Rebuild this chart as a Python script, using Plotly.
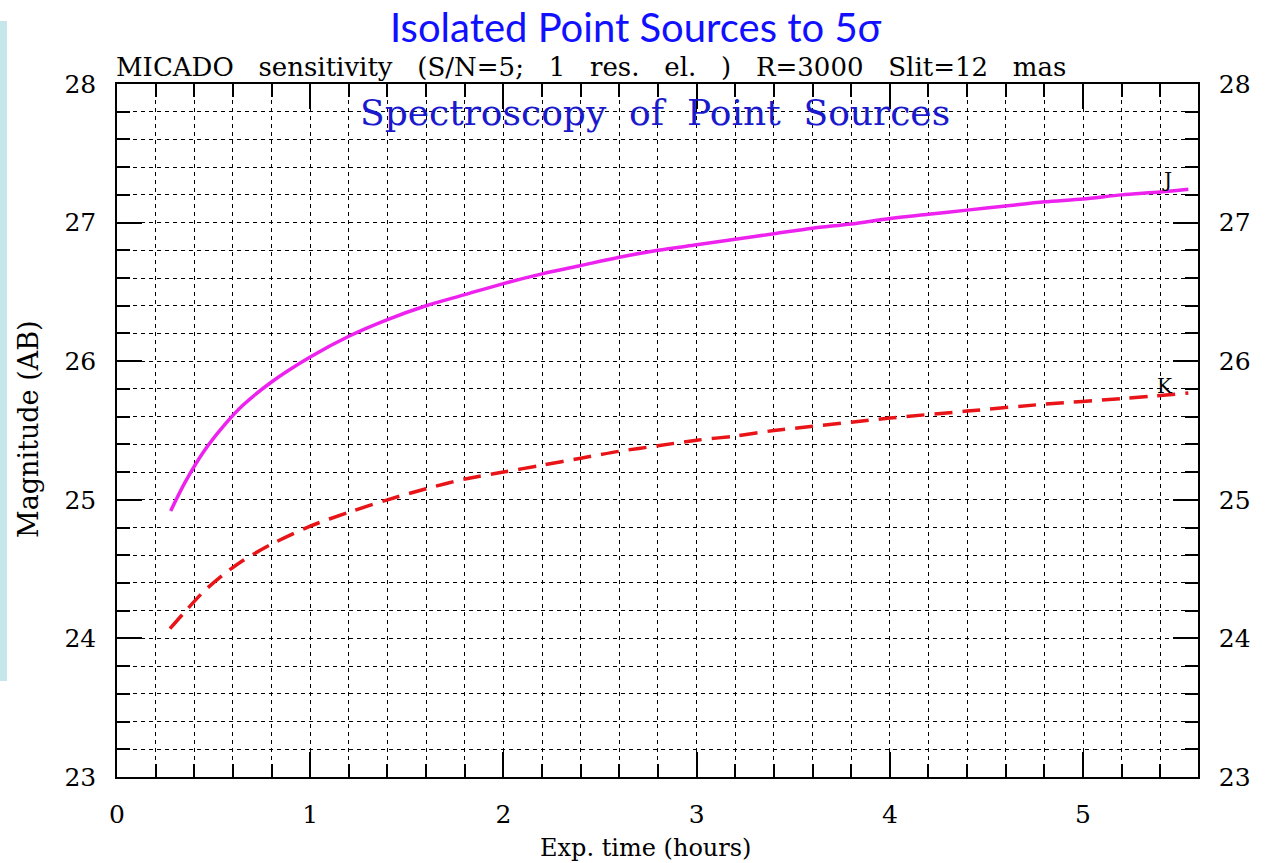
import plotly.graph_objects as go

# ---- data ----
j_hours = [0.278, 0.35, 0.45, 0.55, 0.65, 0.8, 1.0, 1.2, 1.4, 1.6, 1.8, 2.0, 2.2, 2.4,
           2.6, 2.8, 3.0, 3.2, 3.4, 3.6, 3.8, 4.0, 4.2, 4.4, 4.6, 4.8, 5.0, 5.2, 5.4,
           5.545]
j_mag = [24.92, 25.12, 25.35, 25.53, 25.68, 25.85, 26.03, 26.18, 26.30, 26.40, 26.48,
         26.56, 26.63, 26.69, 26.75, 26.80, 26.84, 26.88, 26.92, 26.96, 26.99, 27.03,
         27.06, 27.09, 27.12, 27.15, 27.17, 27.20, 27.22, 27.24]

k_hours = [0.274, 0.35, 0.45, 0.55, 0.65, 0.8, 1.0, 1.2, 1.4, 1.6, 1.8, 2.0, 2.2, 2.4,
           2.6, 2.8, 3.0, 3.2, 3.4, 3.6, 3.8, 4.0, 4.4, 4.8, 5.2, 5.545]
k_mag = [24.07, 24.19, 24.34, 24.46, 24.56, 24.68, 24.81, 24.91, 25.00, 25.08, 25.15,
         25.20, 25.25, 25.30, 25.35, 25.39, 25.43, 25.46, 25.50, 25.53, 25.56, 25.59,
         25.64, 25.69, 25.73, 25.77]

x_ticks = [0, 1, 2, 3, 4, 5]
y_ticks = [23, 24, 25, 26, 27, 28]

SERIF = "DejaVu Serif"
SP = "\u00a0\u00a0\u00a0"  # wide word gap, like the plotting font in the reference
SP2 = "\u00a0\u00a0"

fig = go.Figure()
fig.add_trace(go.Scatter(x=j_hours, y=j_mag, mode="lines",
                         line=dict(color="#ee22ee", width=3.5, shape="spline",
                                   smoothing=0.8),
                         showlegend=False))
fig.add_trace(go.Scatter(x=k_hours, y=k_mag, mode="lines",
                         line=dict(color="#e81418", width=3.5, dash="18px,10px",
                                   shape="spline", smoothing=0.8),
                         showlegend=False, yaxis="y2"))

grid = dict(showgrid=True, gridcolor="black", gridwidth=1, griddash="4px,4px")
tickstyle = dict(ticks="inside", ticklen=25, tickwidth=1.5, tickcolor="black")
minor_ticks = dict(ticks="inside", ticklen=13, tickwidth=1.5, tickcolor="black")
tickfont = dict(family=SERIF, size=25, color="black")

fig.update_layout(
    width=1268, height=863,
    margin=dict(l=117, r=70, t=84, b=86),
    paper_bgcolor="white", plot_bgcolor="white",
    xaxis=dict(range=[0, 5.595], tickvals=x_ticks, ticktext=[str(v) for v in x_ticks],
               **tickstyle, **grid,
               minor=dict(dtick=0.2, tick0=0, **minor_ticks, **grid),
               showline=True, linecolor="black", linewidth=1.5, mirror="ticks",
               zeroline=False, ticklabelstandoff=14, tickfont=tickfont),
    yaxis=dict(range=[23, 28], tickvals=y_ticks, ticktext=[str(v) for v in y_ticks],
               **tickstyle, **grid,
               minor=dict(dtick=0.2, tick0=23, **minor_ticks, **grid),
               showline=True, linecolor="black", linewidth=1.5, mirror=True,
               zeroline=False, ticklabelstandoff=14, tickfont=tickfont),
    yaxis2=dict(range=[23, 28], tickvals=y_ticks, ticktext=[str(v) for v in y_ticks],
                overlaying="y", side="right", anchor="x", **tickstyle,
                minor=dict(dtick=0.2, tick0=23, **minor_ticks, showgrid=False),
                showgrid=False, showline=True, linecolor="black", linewidth=1.5,
                zeroline=False, ticklabelstandoff=14, tickfont=tickfont),
    shapes=[dict(type="rect", xref="paper", yref="paper",
                 x0=-0.1082, x1=-0.1018, y0=0.1385, y1=1.091,
                 fillcolor="#c5e6ea", line=dict(width=0), layer="below")],
)

W, H = 1081, 693


def px(xp):
    return (xp - 117) / W


def py(yp):
    return (777 - yp) / H


subtitle = SP.join(["MICADO", "sensitivity", "(S/N=5;", "1", "res.", "el.", ")",
                    "R=3000", "Slit=12", "mas"])
inner = SP2.join(["Spectroscopy", "of", "Point", "Sources"])

annos = [
    dict(text="Isolated Point Sources to 5σ", x=px(636), y=py(27), xanchor="center",
         yanchor="middle", font=dict(family="Lato", size=40, color="#1010ff")),
    dict(text=subtitle, x=px(114), y=py(67), xanchor="left", yanchor="middle",
         font=dict(family=SERIF, size=26, color="black")),
    dict(text=inner, x=px(655), y=py(113), xanchor="center",
         yanchor="middle", font=dict(family=SERIF, size=36, color="#1a1acc")),
    dict(text="Magnitude (AB)", x=px(28), y=py(429), xanchor="center", yanchor="middle",
         textangle=-90, font=dict(family=SERIF, size=27, color="black")),
    dict(text="Exp. time (hours)", x=px(645), y=py(848), xanchor="center",
         yanchor="middle", font=dict(family=SERIF, size=24, color="black")),
]
for a in annos:
    a.update(xref="paper", yref="paper", showarrow=False)

annos += [
    dict(text="J", x=5.435, y=27.31, xref="x", yref="y", showarrow=False,
         font=dict(family=SERIF, size=20, color="black")),
    dict(text="K", x=5.425, y=25.82, xref="x", yref="y", showarrow=False,
         font=dict(family=SERIF, size=20, color="black")),
]
fig.update_layout(annotations=annos)

fig.write_html("out.html")
